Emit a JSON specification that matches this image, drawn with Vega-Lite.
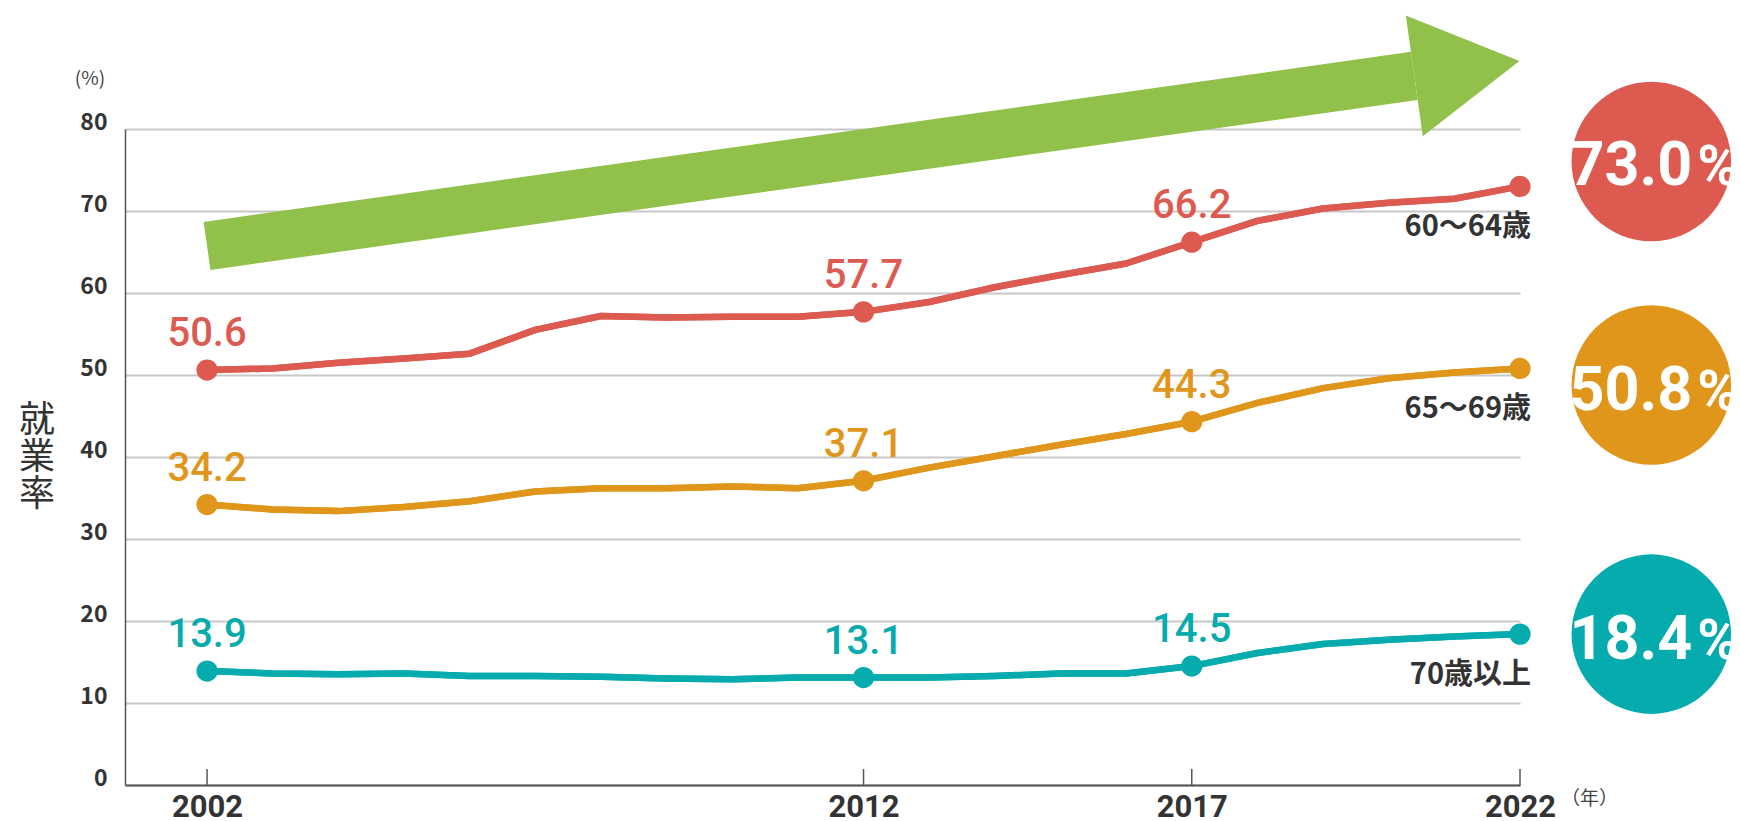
{
  "$schema": "https://vega.github.io/schema/vega-lite/v6.json",
  "width": 1395,
  "height": 656,
  "autosize": {"type": "none"},
  "padding": {"left": 125, "top": 129, "right": 220, "bottom": 36},
  "background": "white",
  "config": {"view": {"stroke": null}, "font": "Roboto"},
  "datasets": {
    "rates": [
      {"year": 2002, "group": "60〜64歳", "value": 50.6},
      {"year": 2003, "group": "60〜64歳", "value": 50.8},
      {"year": 2004, "group": "60〜64歳", "value": 51.5},
      {"year": 2005, "group": "60〜64歳", "value": 52.0},
      {"year": 2006, "group": "60〜64歳", "value": 52.6},
      {"year": 2007, "group": "60〜64歳", "value": 55.5},
      {"year": 2008, "group": "60〜64歳", "value": 57.2},
      {"year": 2009, "group": "60〜64歳", "value": 57.0},
      {"year": 2010, "group": "60〜64歳", "value": 57.1},
      {"year": 2011, "group": "60〜64歳", "value": 57.1},
      {"year": 2012, "group": "60〜64歳", "value": 57.7},
      {"year": 2013, "group": "60〜64歳", "value": 58.9},
      {"year": 2014, "group": "60〜64歳", "value": 60.7},
      {"year": 2015, "group": "60〜64歳", "value": 62.2},
      {"year": 2016, "group": "60〜64歳", "value": 63.6},
      {"year": 2017, "group": "60〜64歳", "value": 66.2},
      {"year": 2018, "group": "60〜64歳", "value": 68.8},
      {"year": 2019, "group": "60〜64歳", "value": 70.3},
      {"year": 2020, "group": "60〜64歳", "value": 71.0},
      {"year": 2021, "group": "60〜64歳", "value": 71.5},
      {"year": 2022, "group": "60〜64歳", "value": 73.0},
      {"year": 2002, "group": "65〜69歳", "value": 34.2},
      {"year": 2003, "group": "65〜69歳", "value": 33.6},
      {"year": 2004, "group": "65〜69歳", "value": 33.4},
      {"year": 2005, "group": "65〜69歳", "value": 33.9},
      {"year": 2006, "group": "65〜69歳", "value": 34.6},
      {"year": 2007, "group": "65〜69歳", "value": 35.8},
      {"year": 2008, "group": "65〜69歳", "value": 36.2},
      {"year": 2009, "group": "65〜69歳", "value": 36.2},
      {"year": 2010, "group": "65〜69歳", "value": 36.4},
      {"year": 2011, "group": "65〜69歳", "value": 36.2},
      {"year": 2012, "group": "65〜69歳", "value": 37.1},
      {"year": 2013, "group": "65〜69歳", "value": 38.7},
      {"year": 2014, "group": "65〜69歳", "value": 40.1},
      {"year": 2015, "group": "65〜69歳", "value": 41.5},
      {"year": 2016, "group": "65〜69歳", "value": 42.8},
      {"year": 2017, "group": "65〜69歳", "value": 44.3},
      {"year": 2018, "group": "65〜69歳", "value": 46.6},
      {"year": 2019, "group": "65〜69歳", "value": 48.4},
      {"year": 2020, "group": "65〜69歳", "value": 49.6},
      {"year": 2021, "group": "65〜69歳", "value": 50.3},
      {"year": 2022, "group": "65〜69歳", "value": 50.8},
      {"year": 2002, "group": "70歳以上", "value": 13.9},
      {"year": 2003, "group": "70歳以上", "value": 13.6},
      {"year": 2004, "group": "70歳以上", "value": 13.5},
      {"year": 2005, "group": "70歳以上", "value": 13.6},
      {"year": 2006, "group": "70歳以上", "value": 13.3},
      {"year": 2007, "group": "70歳以上", "value": 13.3},
      {"year": 2008, "group": "70歳以上", "value": 13.2},
      {"year": 2009, "group": "70歳以上", "value": 13.0},
      {"year": 2010, "group": "70歳以上", "value": 12.9},
      {"year": 2011, "group": "70歳以上", "value": 13.1},
      {"year": 2012, "group": "70歳以上", "value": 13.1},
      {"year": 2013, "group": "70歳以上", "value": 13.1},
      {"year": 2014, "group": "70歳以上", "value": 13.3},
      {"year": 2015, "group": "70歳以上", "value": 13.6},
      {"year": 2016, "group": "70歳以上", "value": 13.6},
      {"year": 2017, "group": "70歳以上", "value": 14.5},
      {"year": 2018, "group": "70歳以上", "value": 16.1},
      {"year": 2019, "group": "70歳以上", "value": 17.2},
      {"year": 2020, "group": "70歳以上", "value": 17.7},
      {"year": 2021, "group": "70歳以上", "value": 18.1},
      {"year": 2022, "group": "70歳以上", "value": 18.4}
    ]
  },
  "data": {"name": "rates"},
  "layer": [
    {
      "mark": {"type": "line", "strokeWidth": 6.5, "strokeJoin": "round"},
      "encoding": {
        "x": {
          "field": "year", "type": "quantitative",
          "scale": {"domain": [2000.75, 2022], "nice": false, "zero": false},
          "axis": {
            "values": [2002, 2012, 2017, 2022], "format": "d", "title": null,
            "labelFont": "Roboto", "labelFontWeight": "bold", "labelFontSize": 31, "labelColor": "#333333",
            "labelBaseline": "alphabetic", "labelPadding": 31, "labelFlush": false,
            "ticks": false, "tickSize": 0, "grid": false,
            "domain": true, "domainColor": "#555555", "domainWidth": 2
          }
        },
        "y": {
          "field": "value", "type": "quantitative",
          "scale": {"domain": [0, 80], "nice": false},
          "axis": {
            "values": [0, 10, 20, 30, 40, 50, 60, 70, 80], "title": null,
            "labelFont": "Noto Sans CJK JP", "labelFontWeight": "bold", "labelFontSize": 23, "labelColor": "#333333",
            "labelBaseline": "alphabetic", "labelPadding": 18,
            "ticks": false, "tickSize": 0,
            "grid": true, "gridColor": "#c8c8c8", "gridWidth": 2,
            "domain": true, "domainColor": "#555555", "domainWidth": 1.5
          }
        },
        "color": {
          "field": "group", "type": "nominal", "legend": null,
          "scale": {"domain": ["60〜64歳", "65〜69歳", "70歳以上"], "range": ["#dd5a50", "#e0961a", "#05abad"]}
        },
        "order": {"field": "year", "type": "quantitative"}
      }
    },
    {
      "data": {"values": [{"shape": "arrow"}]},
      "mark": {"type": "rule", "strokeWidth": 48.5, "color": "#91c14b", "strokeCap": "butt"},
      "encoding": {
        "x": {"datum": 2002},
        "y": {"datum": 65.74},
        "x2": {"datum": 2020.39},
        "y2": {"datum": 86.48}
      }
    },
    {
      "data": {"values": [{"shape": "arrowhead"}]},
      "mark": {"type": "point", "shape": "M0,-1L1.74,0L0,1Z", "filled": true, "opacity": 1, "size": 14884, "angle": -8, "color": "#91c14b", "strokeWidth": 0},
      "encoding": {
        "x": {"datum": 2020.39},
        "y": {"datum": 86.48}
      }
    },
    {
      "mark": {"type": "line", "strokeWidth": 6.5, "strokeJoin": "round"},
      "encoding": {
        "x": {"field": "year", "type": "quantitative"},
        "y": {"field": "value", "type": "quantitative"},
        "color": {"field": "group", "type": "nominal", "legend": null},
        "order": {"field": "year", "type": "quantitative"}
      }
    },
    {
      "transform": [{"filter": {"field": "year", "oneOf": [2002, 2012, 2017, 2022]}}],
      "mark": {"type": "circle", "size": 452, "opacity": 1},
      "encoding": {
        "x": {"field": "year", "type": "quantitative"},
        "y": {"field": "value", "type": "quantitative"},
        "color": {"field": "group", "type": "nominal", "legend": null}
      }
    },
    {
      "transform": [{"filter": {"field": "year", "oneOf": [2002, 2012, 2017]}}],
      "mark": {"type": "text", "font": "Roboto", "fontWeight": 500, "fontSize": 40, "dy": -24, "baseline": "alphabetic", "align": "center"},
      "encoding": {
        "x": {"field": "year", "type": "quantitative"},
        "y": {"field": "value", "type": "quantitative"},
        "text": {"field": "value", "type": "quantitative", "format": ".1f"},
        "color": {"field": "group", "type": "nominal", "legend": null}
      }
    },
    {
      "transform": [{"filter": {"field": "year", "equal": 2022}}],
      "mark": {"type": "text", "font": "Noto Sans CJK JP", "fontWeight": "bold", "fontSize": 29, "dx": 11, "dy": 50, "align": "right", "baseline": "alphabetic", "color": "#333333"},
      "encoding": {
        "x": {"field": "year", "type": "quantitative"},
        "y": {"field": "value", "type": "quantitative"},
        "text": {"field": "group", "type": "nominal"}
      }
    },
    {
      "transform": [{"filter": {"field": "group", "equal": "60〜64歳"}}, {"filter": {"field": "year", "oneOf": [2002, 2012, 2017, 2022]}}],
      "mark": {"type": "rule", "color": "#555555", "strokeWidth": 1.5},
      "encoding": {
        "x": {"field": "year", "type": "quantitative"},
        "y": {"datum": 0},
        "y2": {"datum": 1.95}
      }
    },
    {
      "transform": [{"filter": {"field": "year", "equal": 2022}}, {"filter": {"field": "group", "equal": "60〜64歳"}}],
      "layer": [
        {
          "mark": {"type": "circle", "size": 25447, "opacity": 1, "color": "#dd5a50"},
          "encoding": {
            "x": {"datum": 2024},
            "y": {"datum": 76.03}
          }
        },
        {
          "mark": {"type": "text", "font": "Roboto", "fontWeight": "bold", "fontSize": 61, "color": "white", "align": "right", "baseline": "alphabetic", "dx": 41, "dy": 23.5},
          "encoding": {
            "x": {"datum": 2024},
            "y": {"datum": 76.03},
            "text": {"field": "value", "type": "quantitative", "format": ".1f"}
          }
        },
        {
          "mark": {"type": "text", "font": "Roboto", "fontWeight": "bold", "fontSize": 56, "color": "white", "align": "left", "baseline": "alphabetic", "dx": 46, "dy": 23.5, "text": "%"},
          "encoding": {
            "x": {"datum": 2024},
            "y": {"datum": 76.03}
          }
        }
      ]
    },
    {
      "transform": [{"filter": {"field": "year", "equal": 2022}}, {"filter": {"field": "group", "equal": "65〜69歳"}}],
      "layer": [
        {
          "mark": {"type": "circle", "size": 25447, "opacity": 1, "color": "#e0961a"},
          "encoding": {
            "x": {"datum": 2024},
            "y": {"datum": 48.78}
          }
        },
        {
          "mark": {"type": "text", "font": "Roboto", "fontWeight": "bold", "fontSize": 61, "color": "white", "align": "right", "baseline": "alphabetic", "dx": 41, "dy": 25.3},
          "encoding": {
            "x": {"datum": 2024},
            "y": {"datum": 48.78},
            "text": {"field": "value", "type": "quantitative", "format": ".1f"}
          }
        },
        {
          "mark": {"type": "text", "font": "Roboto", "fontWeight": "bold", "fontSize": 56, "color": "white", "align": "left", "baseline": "alphabetic", "dx": 46, "dy": 25.3, "text": "%"},
          "encoding": {
            "x": {"datum": 2024},
            "y": {"datum": 48.78}
          }
        }
      ]
    },
    {
      "transform": [{"filter": {"field": "year", "equal": 2022}}, {"filter": {"field": "group", "equal": "70歳以上"}}],
      "layer": [
        {
          "mark": {"type": "circle", "size": 25447, "opacity": 1, "color": "#05abad"},
          "encoding": {
            "x": {"datum": 2024},
            "y": {"datum": 18.4}
          }
        },
        {
          "mark": {"type": "text", "font": "Roboto", "fontWeight": "bold", "fontSize": 61, "color": "white", "align": "right", "baseline": "alphabetic", "dx": 41, "dy": 25},
          "encoding": {
            "x": {"datum": 2024},
            "y": {"datum": 18.4},
            "text": {"field": "value", "type": "quantitative", "format": ".1f"}
          }
        },
        {
          "mark": {"type": "text", "font": "Roboto", "fontWeight": "bold", "fontSize": 56, "color": "white", "align": "left", "baseline": "alphabetic", "dx": 46, "dy": 25, "text": "%"},
          "encoding": {
            "x": {"datum": 2024},
            "y": {"datum": 18.4}
          }
        }
      ]
    },
    {
      "data": {"values": [{"label": "（年）"}]},
      "mark": {"type": "text", "font": "Noto Sans CJK JP", "fontSize": 19, "color": "#444444", "align": "left", "baseline": "alphabetic", "dx": 41, "dy": 20},
      "encoding": {
        "x": {"datum": 2022},
        "y": {"datum": 0},
        "text": {"field": "label", "type": "nominal"}
      }
    },
    {
      "data": {"values": [{"label": "(%)"}]},
      "mark": {"type": "text", "font": "Noto Sans CJK JP", "fontSize": 19, "color": "#444444", "align": "center", "baseline": "alphabetic", "dx": -35, "dy": -44},
      "encoding": {
        "x": {"datum": 2000.75},
        "y": {"datum": 80},
        "text": {"field": "label", "type": "nominal"}
      }
    },
    {
      "data": {"values": [{"label": "就業率"}]},
      "mark": {"type": "text", "font": "Noto Sans CJK JP", "fontSize": 36, "lineHeight": 37, "color": "#333333", "align": "center", "baseline": "middle", "dx": -88},
      "encoding": {
        "x": {"datum": 2000.75},
        "y": {"datum": 44.4},
        "text": {"value": ["就", "業", "率"]}
      }
    }
  ]
}
